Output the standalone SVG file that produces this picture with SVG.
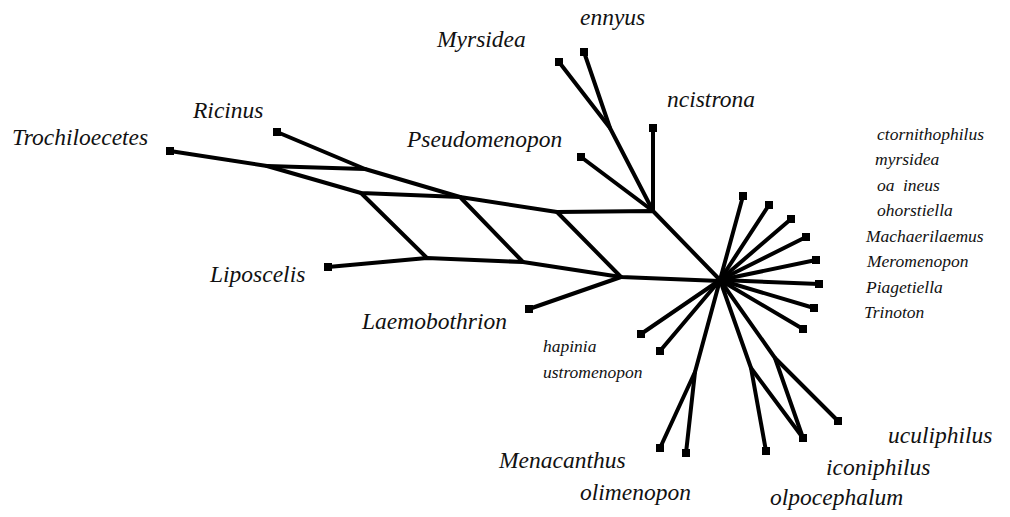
<svg xmlns="http://www.w3.org/2000/svg" width="1010" height="517" viewBox="0 0 1010 517">
<style>
.e{fill:none;stroke:#000;stroke-width:4;stroke-linejoin:round;stroke-linecap:round}
.n{fill:#000}
.t{font-family:"Liberation Serif","Times New Roman",serif;font-style:italic;fill:#111}
.L{font-size:23.5px}
.S{font-size:17.5px}
</style>
<rect width="1010" height="517" fill="#fff"/>
<g id="connectors">
<polyline class="e" points="170,151 267,166 361,193 460,197 557,212 653,211 720,280"/>
<polyline class="e" points="267,166 365,169"/>
<polyline class="e" points="277,132 365,169 460,197"/>
<polyline class="e" points="328,267 427,258 523,262 621,277 720,281"/>
<polyline class="e" points="361,193 427,258"/>
<polyline class="e" points="460,197 523,262"/>
<polyline class="e" points="557,212 621,277"/>
<polyline class="e" points="529,309 621,277"/>
<polyline class="e" points="559,62 610,128 653,211"/>
<polyline class="e" points="584,52 610,128"/>
<polyline class="e" points="581,157 653,211"/>
<polyline class="e" points="653,128 653,211"/>
<polyline class="e" points="720,280 743,196"/>
<polyline class="e" points="720,280 769,205"/>
<polyline class="e" points="720,280 791,219"/>
<polyline class="e" points="720,280 806,237"/>
<polyline class="e" points="720,280 816,260"/>
<polyline class="e" points="720,280 819,284"/>
<polyline class="e" points="720,280 814,308"/>
<polyline class="e" points="720,280 803,329"/>
<polyline class="e" points="720,280 641,334"/>
<polyline class="e" points="720,280 660,351"/>
<polyline class="e" points="720,280 695,372 660,448"/>
<polyline class="e" points="695,372 686,453"/>
<polyline class="e" points="720,280 751,368 766,451"/>
<polyline class="e" points="751,368 803,438"/>
<polyline class="e" points="720,280 775,358 838,421"/>
<polyline class="e" points="775,358 803,438"/>
</g>
<g id="Trochiloecetes"><rect class="n" x="166" y="147" width="8" height="8"/><text class="t L" x="12" y="145">Trochiloecetes</text></g>
<g id="Ricinus"><rect class="n" x="273" y="128" width="8" height="8"/><text class="t L" x="193" y="118">Ricinus</text></g>
<g id="Liposcelis"><rect class="n" x="324" y="263" width="8" height="8"/><text class="t L" x="210" y="282">Liposcelis</text></g>
<g id="Laemobothrion"><rect class="n" x="525" y="305" width="8" height="8"/><text class="t L" x="362" y="329">Laemobothrion</text></g>
<g id="Myrsidea"><rect class="n" x="555" y="58" width="8" height="8"/><text class="t L" x="437" y="47">Myrsidea</text></g>
<g id="ennyus"><rect class="n" x="580" y="48" width="8" height="8"/><text class="t L" x="580" y="25">ennyus</text></g>
<g id="Pseudomenopon"><rect class="n" x="577" y="153" width="8" height="8"/><text class="t L" x="407" y="147">Pseudomenopon</text></g>
<g id="ncistrona"><rect class="n" x="649" y="124" width="8" height="8"/><text class="t L" x="667" y="107">ncistrona</text></g>
<g id="ctornithophilus"><rect class="n" x="739" y="192" width="8" height="8"/><text class="t S" x="877" y="140">ctornithophilus</text></g>
<g id="myrsidea"><rect class="n" x="765" y="201" width="8" height="8"/><text class="t S" x="875" y="165">myrsidea</text></g>
<g id="oaineus"><rect class="n" x="787" y="215" width="8" height="8"/><text class="t S" x="877" y="191" word-spacing="4">oa ineus</text></g>
<g id="ohorstiella"><rect class="n" x="802" y="233" width="8" height="8"/><text class="t S" x="877" y="216">ohorstiella</text></g>
<g id="Machaerilaemus"><rect class="n" x="812" y="256" width="8" height="8"/><text class="t S" x="866" y="242">Machaerilaemus</text></g>
<g id="Meromenopon"><rect class="n" x="815" y="280" width="8" height="8"/><text class="t S" x="867" y="267">Meromenopon</text></g>
<g id="Piagetiella"><rect class="n" x="810" y="304" width="8" height="8"/><text class="t S" x="866" y="293">Piagetiella</text></g>
<g id="Trinoton"><rect class="n" x="799" y="325" width="8" height="8"/><text class="t S" x="864" y="318">Trinoton</text></g>
<g id="hapinia"><rect class="n" x="637" y="330" width="8" height="8"/><text class="t S" x="543" y="352">hapinia</text></g>
<g id="ustromenopon"><rect class="n" x="656" y="347" width="8" height="8"/><text class="t S" x="543" y="378">ustromenopon</text></g>
<g id="Menacanthus"><rect class="n" x="656" y="444" width="8" height="8"/><text class="t L" x="499" y="468">Menacanthus</text></g>
<g id="olimenopon"><rect class="n" x="682" y="449" width="8" height="8"/><text class="t L" x="580" y="500">olimenopon</text></g>
<g id="olpocephalum"><rect class="n" x="762" y="447" width="8" height="8"/><text class="t L" x="770" y="505">olpocephalum</text></g>
<g id="iconiphilus"><rect class="n" x="799" y="434" width="8" height="8"/><text class="t L" x="826" y="475">iconiphilus</text></g>
<g id="uculiphilus"><rect class="n" x="834" y="417" width="8" height="8"/><text class="t L" x="888" y="443">uculiphilus</text></g>
</svg>
